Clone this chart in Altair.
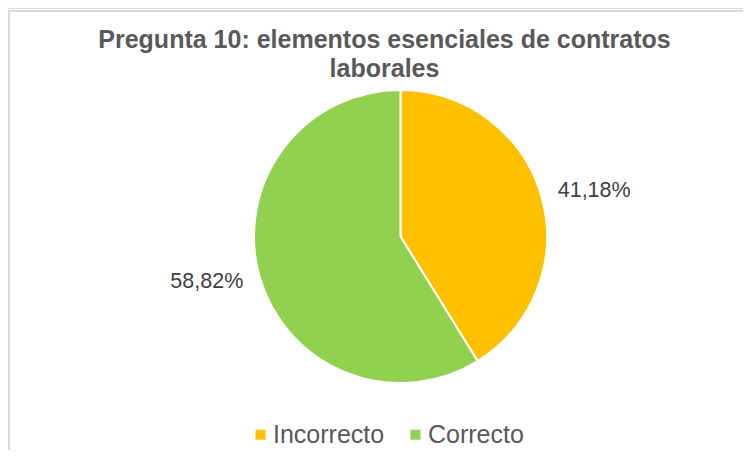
import altair as alt
import pandas as pd
import math

categories = ["Incorrecto", "Correcto"]
values = [41.18, 58.82]
labels = ["41,18%", "58,82%"]
order_idx = [0, 1]
colors = ["#FFC000", "#92D050"]
title_lines = ["Pregunta 10: elementos esenciales de contratos", "laborales"]

df = pd.DataFrame({"cat": categories, "val": values, "lab": labels, "idx": order_idx})

W, H = 735, 442
CX, CY = 392.5, 228.5

base = alt.Chart(df)

color_enc = alt.Color(
    "cat:N",
    scale=alt.Scale(domain=categories, range=colors),
    sort=categories,
    legend=alt.Legend(
        title=None,
        orient="none",
        legendX=240,
        legendY=414,
        direction="horizontal",
        symbolType="square",
        symbolSize=100,
        symbolStrokeWidth=0,
        labelFont="Liberation Sans",
        labelFontSize=25,
        labelColor="#595959",
        labelOffset=0,
        columnPadding=18,
    ),
)

arcs = base.mark_arc(outerRadius=146.5, stroke="white", strokeWidth=2).encode(
    theta=alt.Theta("val:Q", stack=True),
    color=color_enc,
    order=alt.Order("idx:Q"),
    x=alt.value(CX),
    y=alt.value(CY),
)

rot = math.radians(2.6)
texts = base.mark_text(
    font="Liberation Sans", fontSize=21.5, color="#404040", align="center", baseline="middle"
).encode(
    theta=alt.Theta("val:Q", stack=True, scale=alt.Scale(range=[rot, 2 * math.pi + rot])),
    detail="cat:N",
    order=alt.Order("idx:Q"),
    text="lab:N",
    radius=alt.value(199),
    x=alt.value(CX),
    y=alt.value(CY),
)

title = alt.Chart(alt.Data(values=[{"t": "\n".join(title_lines)}])).mark_text(
    font="Liberation Sans", fontSize=25, fontWeight="bold", color="#595959",
    align="center", baseline="alphabetic", lineBreak="\n", lineHeight=29,
).encode(text="t:N", x=alt.value(376.5), y=alt.value(40))

border_top = alt.Chart(alt.Data(values=[{}])).mark_rule(color="#D9D9D9", strokeWidth=2).encode(
    x=alt.value(0), x2=alt.value(W), y=alt.value(3)
)
border_left = alt.Chart(alt.Data(values=[{}])).mark_rule(color="#D9D9D9", strokeWidth=2).encode(
    x=alt.value(1), y=alt.value(2), y2=alt.value(H)
)

chart = alt.layer(border_top, border_left, title, arcs, texts).resolve_scale(
    theta="independent"
).properties(
    width=W, height=H, padding=0, autosize=alt.AutoSizeParams(type="none")
).configure_view(stroke=None).configure(background="white")

chart.save("out.html", embed_options={"renderer": "svg", "actions": False})
